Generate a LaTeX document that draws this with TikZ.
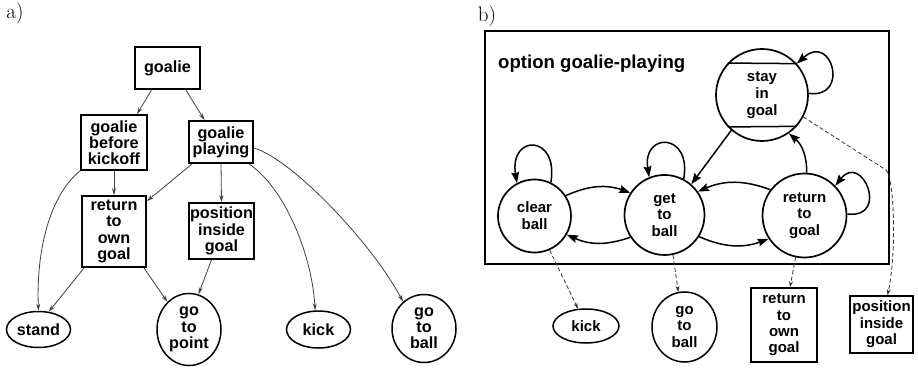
\documentclass[tikz,border=0pt]{standalone}
\usepackage{fontspec}
\setsansfont{Liberation Sans}
\usetikzlibrary{shapes.geometric,arrows.meta,calc}
\begin{document}
\begin{tikzpicture}[x=1pt,y=1pt,
  panellabel/.style={font=\fontsize{21}{21}\selectfont, inner sep=0},
  hbox/.style={draw, line width=1.7pt, rectangle, inner sep=0, align=center,
    font=\sffamily\bfseries\fontsize{16.2}{16.2}\selectfont},
  hell/.style={draw, line width=1.5pt, ellipse, inner sep=0, align=center,
    font=\sffamily\bfseries\fontsize{16.2}{16.2}\selectfont},
  tedge/.style={draw=black!75, line width=0.8pt, -{Stealth[length=7pt,width=4pt]}},
  state/.style={draw, line width=1.7pt, circle, inner sep=0, align=center,
    font=\sffamily\bfseries\fontsize{15}{16.8}\selectfont},
  sbox/.style={draw, line width=1.7pt, rectangle, inner sep=0, align=center,
    font=\sffamily\bfseries\fontsize{15}{16.4}\selectfont},
  sell/.style={draw, line width=1.5pt, ellipse, inner sep=0, align=center,
    font=\sffamily\bfseries\fontsize{15}{16.8}\selectfont},
  trans/.style={line width=1.5pt, -{Stealth[length=11pt,width=8pt,inset=1.5pt]}},
  sub/.style={draw=black!80, line width=0.8pt, dash pattern=on 4pt off 2.5pt,
    -{Stealth[length=6pt,width=4pt]}}
]
\useasboundingbox (0,0) rectangle (918,367);

% ---------- a) option hierarchy ----------
\node[panellabel] (la) at (15,354) {a)};

\node[hbox, minimum width=65pt, minimum height=42pt] (goalie) at (167.5,299) {goalie};
\node[hbox, minimum width=66pt, minimum height=55pt] (gbk) at (114,224.5) {goalie\\before\\kickoff};
\node[hbox, minimum width=64pt, minimum height=42pt] (gp) at (221,225) {goalie\\playing};
\node[hbox, minimum width=64pt, minimum height=71pt] (rog) at (114,135.5) {return\\to\\own\\goal};
\node[hbox, minimum width=65pt, minimum height=56pt] (pig) at (221.5,136) {position\\inside\\goal};
\node[hell, minimum width=64pt, minimum height=36pt] (stand) at (38.5,37.5) {stand};
\node[hell, minimum width=64pt, minimum height=72pt] (gtp) at (189,37.5) {go\\to\\point};
\node[hell, minimum width=64pt, minimum height=37pt] (kick) at (318.5,37.5) {kick};
\node[hell, minimum width=64pt, minimum height=68pt] (gtb) at (424,38.5) {go\\to\\ball};

\draw[tedge] (goalie.-126) -- (gbk.51);
\draw[tedge] (goalie.-50) -- (gp.127);
\draw[tedge] (gbk.south) -- (rog.north);
\draw[tedge] (gbk.south west) .. controls (50,172) and (36,117) .. (stand.north);
\draw[tedge] ([xshift=4pt]gp.south west) -- ([yshift=-6pt]rog.north east);
\draw[tedge] (gp.south) -- (pig.north);
\draw[tedge] ([xshift=-5pt]gp.south east) .. controls (285,179) and (312,112) .. (kick.100);
\draw[tedge] ([yshift=-6pt]gp.east) .. controls (290,209) and (370,127) .. (gtb.128);
\draw[tedge] ([xshift=3pt]rog.south west) -- (stand.60);
\draw[tedge] ([xshift=-3pt]rog.south east) -- (gtp.128);
\draw[tedge] ([xshift=-10pt]pig.south) -- (gtp.75);

% ---------- b) state machine of goalie-playing ----------
\node[panellabel] (lb) at (487,351) {b)};
\draw[line width=2.3pt] (485,103) rectangle (889,336);
\node[anchor=base west, inner sep=0, font=\sffamily\bfseries\fontsize{18.6}{18.6}\selectfont]
  (title) at (498,298) {option goalie-playing};

\node[state, minimum size=92pt] (stay) at (762,272) {stay\\in\\goal};
\draw[line width=1.5pt] (stay.137.6) -- (stay.42.4);
\draw[line width=1.5pt] (stay.-137.6) -- (stay.-42.4);
\node[state, minimum size=73pt] (clear) at (534.5,151) {clear\\ball};
\node[state, minimum size=80pt] (get) at (664.5,152) {get\\to\\ball};
\node[state, minimum size=84pt] (ret) at (804.5,151.5) {return\\to\\goal};

\node[sell, minimum width=66pt, minimum height=34pt] (kick2) at (586,41) {kick};
\node[sell, minimum width=65pt, minimum height=70pt] (gtb2) at (684.5,40) {go\\to\\ball};
\node[sbox, minimum width=66pt, minimum height=74pt] (rog2) at (784,42) {return\\to\\own\\goal};
\node[sbox, minimum width=63pt, minimum height=57pt] (pig2) at (881.5,42.5) {position\\inside\\goal};

% transitions
\draw[trans] (clear.33) to[bend left=22] (get.147);
\draw[trans] (get.-147) to[bend left=22] (clear.-30);
\draw[trans] (ret.143) to[bend right=22] (get.35);
\draw[trans] (get.-32) to[bend right=22] (ret.-147);
\draw[trans] (stay.-131) -- (get.49);
\draw[trans] (ret.87) to[bend right=25] (stay.-55);
% self loops
\draw[trans] (clear.64) .. controls (559,233) and (509,233) .. (clear.118);
\draw[trans] (get.62) .. controls (692,235) and (642,235) .. (get.112);
\draw[trans] (ret.2) .. controls (890,148) and (862,215) .. (ret.44);
\draw[trans] (stay.2) .. controls (850,268) and (832,335) .. (stay.42);

% sub-options
\draw[sub] (clear.-66) -- (kick2.115);
\draw[sub] (get.-78) -- (gtb2.100);
\draw[sub] (ret.-102) -- ([xshift=6pt]rog2.north);
\draw[sub] (stay.-28) -- (886,197) .. controls (894,191) and (897,115) .. ([xshift=6pt]pig2.north);
\end{tikzpicture}
\end{document}
